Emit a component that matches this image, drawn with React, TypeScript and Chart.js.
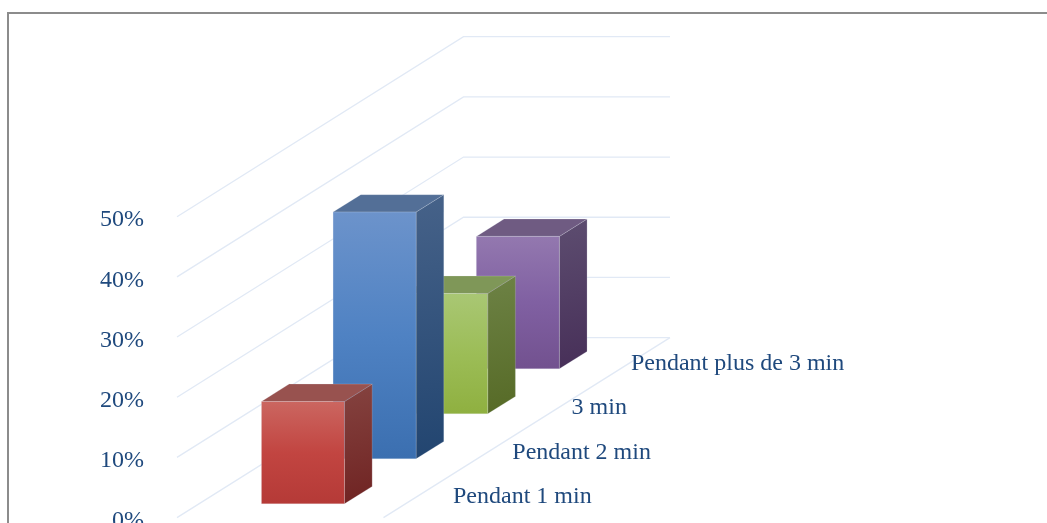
import React, { useEffect, useRef } from "react";
import { Chart, registerables } from "chart.js";

Chart.register(...registerables);

// Share of responses for each duration
const categories = ["Pendant 1 min", "Pendant 2 min", "3 min", "Pendant plus de 3 min"];
const shares = [17, 41, 20, 22];
const barOrder = [3, 2, 1, 0];

// Face colours per bar: front gradient stops, top face, side gradient stops
const frontTop = ["#CB6660", "#6C93CB", "#A9C774", "#9378AF"];
const frontMid = ["#C24541", "#4F82C3", "#9CBD57", "#8060A2"];
const frontBottom = ["#B53A37", "#3B6FB0", "#8FB040", "#72518F"];
const topFace = ["#98524F", "#536F97", "#7F9758", "#6F5B82"];
const sideTop = ["#854340", "#466289", "#6D8245", "#5D4D70"];
const sideBottom = ["#6F2322", "#224570", "#566A26", "#472F58"];

const textColor = "#1F497D";
const gridColor = "#E1E9F5";
const serif = "'Liberation Serif', serif";

// Oblique projection of the floor
const wallWidth = 206.5;
const depthRise = 180 / 286.5;
const barWidth = 83;
const barDepth = 27.7;
const lateralCentre = 104;

const projection3d = {
  id: "projection3d",
  beforeDatasetsDraw(chart: any) {
    const { ctx, chartArea, width, height } = chart;
    const yScale = chart.scales.y;
    const depthSpan = chartArea.right - chartArea.left;
    const lift = depthSpan * depthRise;

    // Frame around the figure
    ctx.save();
    ctx.strokeStyle = "#8C8C8C";
    ctx.lineWidth = 2;
    ctx.beginPath();
    ctx.moveTo(8, height);
    ctx.lineTo(8, 13);
    ctx.lineTo(width, 13);
    ctx.stroke();

    // Gridlines run along the side wall and then across the back wall
    ctx.strokeStyle = gridColor;
    ctx.lineWidth = 1.3;
    for (const tick of yScale.ticks) {
      const y = yScale.getPixelForValue(tick.value);
      ctx.beginPath();
      ctx.moveTo(chartArea.left, y);
      ctx.lineTo(chartArea.right, y - lift);
      ctx.lineTo(chartArea.right + wallWidth, y - lift);
      ctx.stroke();
    }
    // Right-hand edge of the floor
    const floorY = yScale.getPixelForValue(0);
    ctx.beginPath();
    ctx.moveTo(chartArea.right + wallWidth, floorY - lift);
    ctx.lineTo(chartArea.left + wallWidth, floorY);
    ctx.stroke();
    ctx.restore();
  },
  afterDatasetsDraw(chart: any) {
    const { ctx, chartArea } = chart;
    const bars = chart.getDatasetMeta(0).data;
    const dx = barDepth;
    const dy = barDepth * depthRise;

    ctx.save();
    for (const i of barOrder) {
      const bar = bars[i];
      const depth = bar.x - chartArea.left - dx / 2;
      const rise = depth * depthRise;
      const left = chartArea.left + lateralCentre - barWidth / 2 + depth;
      const right = left + barWidth;
      const top = bar.y - rise;
      const bottom = bar.base - rise;

      const front = ctx.createLinearGradient(0, top, 0, bottom);
      front.addColorStop(0, frontTop[i]);
      front.addColorStop(0.5, frontMid[i]);
      front.addColorStop(1, frontBottom[i]);

      const side = ctx.createLinearGradient(right, top - dy, right + dx, bottom);
      side.addColorStop(0, sideTop[i]);
      side.addColorStop(1, sideBottom[i]);

      ctx.strokeStyle = "rgba(225,232,242,0.2)";
      ctx.lineWidth = 1;
      ctx.lineJoin = "round";

      ctx.fillStyle = side;
      ctx.beginPath();
      ctx.moveTo(right, top);
      ctx.lineTo(right + dx, top - dy);
      ctx.lineTo(right + dx, bottom - dy);
      ctx.lineTo(right, bottom);
      ctx.closePath();
      ctx.fill();
      ctx.stroke();

      ctx.fillStyle = topFace[i];
      ctx.beginPath();
      ctx.moveTo(left, top);
      ctx.lineTo(left + dx, top - dy);
      ctx.lineTo(right + dx, top - dy);
      ctx.lineTo(right, top);
      ctx.closePath();
      ctx.fill();
      ctx.stroke();

      ctx.fillStyle = front;
      ctx.beginPath();
      ctx.rect(left, top, barWidth, bottom - top);
      ctx.fill();
      ctx.stroke();
    }

    // Category labels step back along the floor
    const origin = bars[0].x;
    ctx.fillStyle = textColor;
    ctx.font = `24px ${serif}`;
    ctx.textAlign = "left";
    ctx.textBaseline = "middle";
    chart.scales.x.getLabels().forEach((label: string, i: number) => {
      const slot = (bars[i].x - origin) / (bars[1].x - origin);
      ctx.fillText(label, 453 + slot * 59.3, 497 - slot * 44.4);
    });
    ctx.restore();
  },
};

export default function App() {
  const canvasRef = useRef<HTMLCanvasElement | null>(null);

  useEffect(() => {
    document.body.style.margin = "0";
    document.body.style.overflow = "hidden";
    const chart = new Chart(canvasRef.current!, {
      type: "bar",
      data: {
        labels: categories,
        datasets: [{ data: shares, backgroundColor: "rgba(0,0,0,0)", borderWidth: 0 }],
      },
      plugins: [projection3d],
      options: {
        animation: false,
        responsive: false,
        layout: { autoPadding: false, padding: { left: 0, top: 216.7, right: 583.5, bottom: 6.3 } },
        plugins: { legend: { display: false }, tooltip: { enabled: false } },
        scales: {
          x: { display: false },
          y: {
            min: 0,
            max: 50,
            afterFit(scale: any) {
              scale.width = 177;
            },
            border: { display: false },
            grid: { display: false },
            ticks: {
              stepSize: 10,
              padding: 25,
              labelOffset: 3.5,
              color: textColor,
              font: { family: serif, size: 24 },
              callback: (value: any) => `${value}%`,
            },
          },
        },
      },
    } as any);
    return () => chart.destroy();
  }, []);

  // The plot runs past the lower edge of the figure, which crops the 0% row
  return (
    <div style={{ width: 1047, height: 523, overflow: "hidden" }}>
      <canvas
        ref={canvasRef}
        width={1047}
        height={557}
        style={{ display: "block", width: 1047, height: 557 }}
      />
    </div>
  );
}
